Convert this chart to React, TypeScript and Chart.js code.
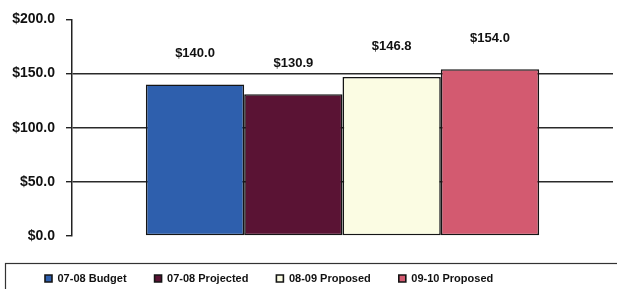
import React, { useEffect, useRef } from "react";
import { Chart, registerables } from "chart.js";

Chart.register(...registerables);

const categories: string[] = [""];
const seriesNames: string[] = ["07-08 Budget", "07-08 Projected", "08-09 Proposed", "09-10 Proposed"];
const seriesValues: number[] = [140.0, 130.9, 146.8, 154.0];
const yTickValues: number[] = [0, 50, 100, 150, 200];

const seriesColors: string[] = ["#2e5fad", "#5a1334", "#fbfce3", "#d35a70"];
const FONT = "'Liberation Sans', Arial, sans-serif";

const valueLabels = {
  id: "valueLabels",
  afterDatasetsDraw(chart: any) {
    const ctx = chart.ctx;
    ctx.save();
    ctx.font = `bold 13px ${FONT}`;
    ctx.fillStyle = "#111";
    ctx.textAlign = "center";
    ctx.textBaseline = "middle";
    chart.data.datasets.forEach((ds: any, i: number) => {
      const meta = chart.getDatasetMeta(i);
      meta.data.forEach((bar: any, j: number) => {
        const v = ds.data[j] as number;
        ctx.fillText("$" + v.toFixed(1), bar.x, bar.y - 31);
      });
    });
    ctx.restore();
  },
};

// nudges the legend row to the right and draws the frame around it
const legendFrame = {
  id: "legendFrame",
  afterLayout(chart: any) {
    const lg = chart.legend;
    if (!lg) return;
    lg.left += 9;
    lg.right += 9;
  },
  afterDraw(chart: any) {
    const lg = chart.legend;
    if (!lg) return;
    const ctx = chart.ctx;
    ctx.save();
    ctx.strokeStyle = "#333";
    ctx.lineWidth = 1.2;
    ctx.strokeRect(Math.round(lg.left - 12) + 0.5, Math.round(lg.top + 18) + 0.5, chart.width, 60);
    ctx.restore();
  },
};

export default function App() {
  const ref = useRef<HTMLCanvasElement | null>(null);

  useEffect(() => {
    if (!ref.current) return;
    const chart = new Chart(ref.current, {
      type: "bar",
      data: {
        labels: categories,
        datasets: seriesNames.map((name, i) => ({
          label: name,
          data: [seriesValues[i]],
          backgroundColor: seriesColors[i],
          borderColor: "#151515",
          borderWidth: 1.6,
          borderSkipped: false,
          categoryPercentage: 0.727,
          barPercentage: 1,
        })),
      },
      options: {
        responsive: false,
        animation: false,
        layout: { padding: { left: 8, right: 4, top: 12, bottom: 0 } },
        plugins: {
          tooltip: { enabled: false },
          legend: {
            position: "bottom",
            align: "start",
            maxHeight: 44,
            labels: {
              boxWidth: 7,
              boxHeight: 7,
              padding: 28,
              color: "#111",
              font: { family: FONT, size: 11, weight: "bold" },
            },
          },
        },
        scales: {
          x: {
            display: true,
            grid: { display: true, drawOnChartArea: false, drawTicks: true, tickLength: 9, color: "rgba(0,0,0,0)" },
            border: { display: false },
            ticks: { display: false },
          },
          y: {
            min: 0,
            max: 200,
            afterBuildTicks: (axis: any) => {
              axis.ticks = yTickValues.map((v) => ({ value: v }));
            },
            afterFit: (axis: any) => {
              axis.width = 64;
            },
            grid: {
              color: (c: any) => (c.tick && (c.tick.value === 0 || c.tick.value === 200) ? "rgba(0,0,0,0)" : "#2a2a2a"),
              tickColor: "#222",
              lineWidth: 1.4,
              tickLength: 6,
            },
            border: { display: true, color: "#222", width: 1.5 },
            ticks: {
              padding: 11,
              color: "#111",
              font: { family: FONT, size: 14, weight: "bold" },
              callback: (v: any) => "$" + Number(v).toFixed(1),
            },
          },
        },
      },
      plugins: [valueLabels, legendFrame],
    });
    return () => chart.destroy();
  }, []);

  return (
    <div style={{ position: "absolute", left: 0, top: 0, width: 617, height: 289, background: "#fff" }}>
      <canvas ref={ref} width={617} height={289} style={{ display: "block" }} />
    </div>
  );
}
